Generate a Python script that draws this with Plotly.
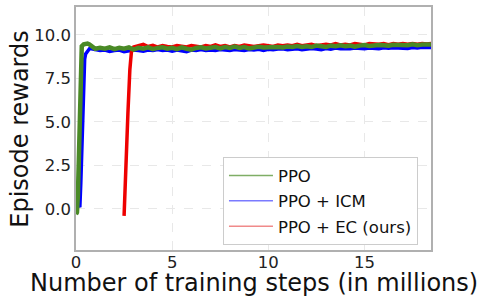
import plotly.graph_objects as go

# ---------------- data ----------------
PLATEAU_X = [1.25, 1.5, 1.75, 2.0, 2.25, 2.5, 2.75, 3.0, 3.25, 3.5,
             3.75, 4.0, 4.25, 4.5, 4.75, 5.0, 5.25, 5.5, 5.75, 6.0,
             6.25, 6.5, 6.75, 7.0, 7.25, 7.5, 7.75, 8.0, 8.25, 8.5,
             8.75, 9.0, 9.25, 9.5, 9.75, 10.0, 10.25, 10.5, 10.75, 11.0,
             11.25, 11.5, 11.75, 12.0, 12.25, 12.5, 12.75, 13.0, 13.25, 13.5,
             13.75, 14.0, 14.25, 14.5, 14.75, 15.0, 15.25, 15.5, 15.75, 16.0,
             16.25, 16.5, 16.75, 17.0, 17.25, 17.5, 17.75, 18.0, 18.25, 18.5]

ppo_rise_x = [0.0, 0.05, 0.1, 0.15, 0.2, 0.25, 0.3, 0.4, 0.5, 0.6, 0.7, 0.8, 0.9, 1.0]
ppo_rise_y = [-0.3, -0.2, 0.8, 3.5, 6.5, 8.8, 9.35, 9.45, 9.5, 9.5, 9.45, 9.35, 9.3, 9.2]
ppo_plateau = [9.25, 9.2, 9.28, 9.18, 9.25, 9.2, 9.28, 9.15, 9.25, 9.2,
               9.28, 9.18, 9.25, 9.28, 9.2, 9.25, 9.18, 9.28, 9.2, 9.15,
               9.25, 9.28, 9.22, 9.25, 9.3, 9.22, 9.3, 9.25, 9.32, 9.25,
               9.3, 9.22, 9.3, 9.32, 9.27, 9.3, 9.33, 9.3, 9.27, 9.33,
               9.3, 9.36, 9.3, 9.35, 9.3, 9.38, 9.34, 9.3, 9.38, 9.35,
               9.4, 9.35, 9.38, 9.32, 9.38, 9.42, 9.36, 9.4, 9.42, 9.4,
               9.37, 9.43, 9.4, 9.43, 9.4, 9.46, 9.4, 9.44, 9.47, 9.45]

icm_rise_x = [0.15, 0.2, 0.25, 0.3, 0.35, 0.4, 0.45, 0.5, 0.6, 0.7, 0.8, 1.0]
icm_rise_y = [0.2, 0.1, 1.5, 3.5, 6.0, 7.8, 8.6, 8.9, 9.1, 9.2, 9.2, 9.15]
icm_plateau = [9.1, 9.13, 9.05, 9.1, 9.13, 9.03, 9.1, 9.13, 9.1, 9.06,
               9.13, 9.1, 9.16, 9.1, 9.13, 9.06, 9.13, 9.1, 9.03, 9.13,
               9.1, 9.16, 9.1, 9.13, 9.1, 9.16, 9.13, 9.1, 9.16, 9.13,
               9.1, 9.16, 9.13, 9.17, 9.1, 9.17, 9.14, 9.18, 9.2, 9.14,
               9.18, 9.2, 9.15, 9.18, 9.21, 9.18, 9.15, 9.21, 9.18, 9.24,
               9.2, 9.22, 9.2, 9.25, 9.22, 9.2, 9.25, 9.23, 9.2, 9.26,
               9.23, 9.26, 9.24, 9.27, 9.22, 9.27, 9.25, 9.28, 9.3, 9.28]

ec_rise_x = [2.5, 2.52, 2.55, 2.6, 2.7, 2.8, 2.88, 3.0]
ec_rise_y = [-0.4, 0.3, 0.6, 2.5, 5.5, 8.0, 9.0, 9.3]
ec_plateau = [9.38, 9.45, 9.33, 9.4, 9.3, 9.38, 9.33, 9.3, 9.38, 9.33,
              9.3, 9.38, 9.33, 9.3, 9.38, 9.33, 9.42, 9.33, 9.38, 9.3,
              9.38, 9.33, 9.42, 9.38, 9.33, 9.38, 9.42, 9.38, 9.33, 9.42,
              9.38, 9.42, 9.38, 9.46, 9.38, 9.42, 9.46, 9.38, 9.42, 9.46,
              9.42, 9.5, 9.42, 9.46, 9.42, 9.5, 9.46, 9.42, 9.5, 9.46,
              9.46, 9.5, 9.43, 9.5, 9.46, 9.5, 9.46, 9.5, 9.46, 9.5,
              9.47, 9.5]

labels = ["PPO", "PPO + ICM", "PPO + EC (ours)"]
x_ticks = [0, 5, 10, 15]
y_ticks = [0.0, 2.5, 5.0, 7.5, 10.0]

GREEN, BLUE, RED = "#4a8a26", "#0000ff", "#ee0000"
LGREEN, LBLUE, LRED = "#7fae66", "#7a7aff", "#f08a8a"

FONT = "DejaVu Sans"

fig = go.Figure()
# data traces: blue, red, then green on top
fig.add_trace(go.Scatter(x=icm_rise_x + PLATEAU_X, y=icm_rise_y + icm_plateau,
                         mode="lines", line=dict(color=BLUE, width=3.5), showlegend=False))
fig.add_trace(go.Scatter(x=ec_rise_x + PLATEAU_X[8:], y=ec_rise_y + ec_plateau,
                         mode="lines", line=dict(color=RED, width=3.5), showlegend=False))
fig.add_trace(go.Scatter(x=ppo_rise_x + PLATEAU_X, y=ppo_rise_y + ppo_plateau,
                         mode="lines", line=dict(color=GREEN, width=4.5), showlegend=False))
# legend entries
for i, (name, col) in enumerate(zip(labels, [LGREEN, LBLUE, LRED])):
    fig.add_trace(go.Scatter(x=[None], y=[None], mode="lines", name=name,
                             legendgroup=f"g{i}",
                             line=dict(color=col, width=1.5)))

axis_common = dict(
    showline=True, linecolor="#b0b0b0", linewidth=1.5, mirror=True,
    showgrid=True, gridcolor="#e8e8e8", griddash="dash", gridwidth=1,
    zeroline=False, ticks="", automargin=False,
    tickfont=dict(family=FONT, size=16.5, color="#222"),
)

fig.update_layout(
    width=477, height=297,
    margin=dict(l=76, r=46, t=7, b=47),
    paper_bgcolor="white", plot_bgcolor="white",
    font=dict(family=FONT, color="#111"),
    xaxis=dict(range=[0, 18.46], tickvals=x_ticks, ticklabelstandoff=-4, **axis_common),
    yaxis=dict(range=[-2.36, 11.6], tickvals=y_ticks, tickformat=".1f", **axis_common),
    legend=dict(x=0.414, y=0.382, xanchor="left", yanchor="top",
                bgcolor="white", bordercolor="#cccccc", borderwidth=1,
                font=dict(family=FONT, size=16.5, color="#111"),
                itemwidth=44, tracegroupgap=1),
    annotations=[
        dict(text="Number of training steps (in millions)", xref="paper", yref="paper",
             x=0.5, y=-0.069, xanchor="center", yanchor="top", showarrow=False,
             font=dict(family=FONT, size=24, color="#111")),
        dict(text="Episode rewards", xref="paper", yref="paper", textangle=-90,
             x=-0.16, y=0.5, xanchor="center", yanchor="middle", showarrow=False,
             font=dict(family=FONT, size=24, color="#111")),
    ],
)

fig.write_html("out.html", config={"displayModeBar": False},
               post_script="document.body.style.margin='0';document.body.style.padding='0';")
